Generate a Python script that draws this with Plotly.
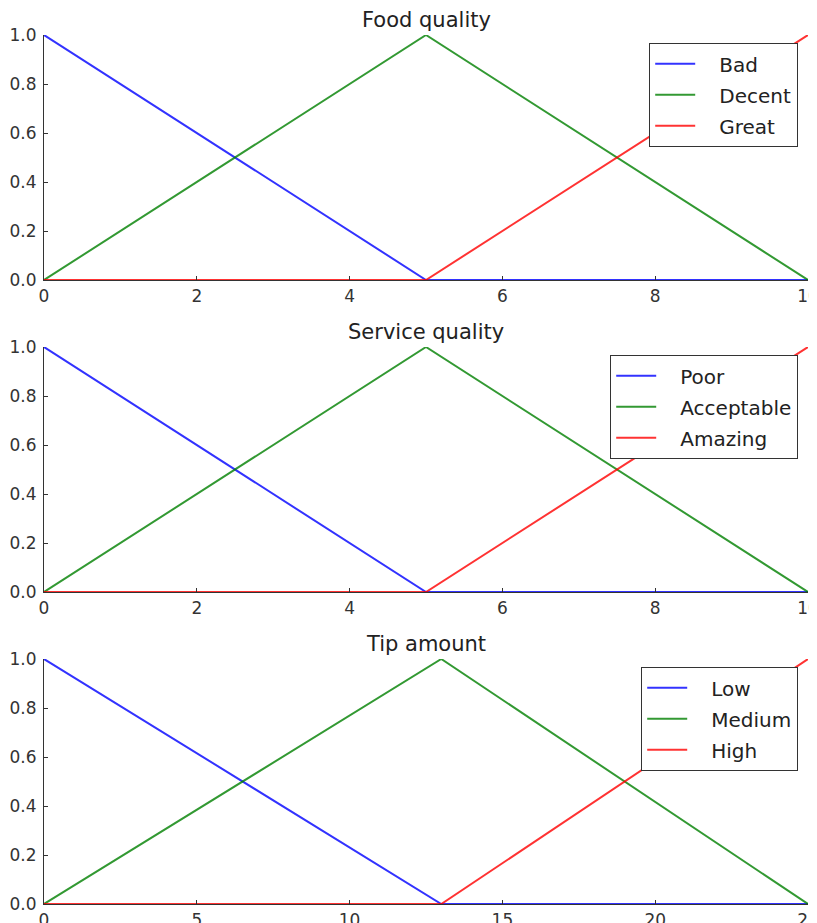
import plotly.graph_objects as go

# Universes
x_food = [0, 5, 10]
x_serv = [0, 5, 10]
x_tip = [0, 13, 25]

# Membership values at breakpoints
food_bad = [1.0, 0.0, 0.0]
food_decent = [0.0, 1.0, 0.0]
food_great = [0.0, 0.0, 1.0]

serv_poor = [1.0, 0.0, 0.0]
serv_acceptable = [0.0, 1.0, 0.0]
serv_amazing = [0.0, 0.0, 1.0]

tip_low = [1.0, 0.0, 0.0]
tip_medium = [0.0, 1.0, 0.0]
tip_high = [0.0, 0.0, 1.0]

titles = ["Food quality", "Service quality", "Tip amount"]
labels_food = ["Bad", "Decent", "Great"]
labels_serv = ["Poor", "Acceptable", "Amazing"]
labels_tip = ["Low", "Medium", "High"]

colors = ["#0000ff", "#008000", "#ff0000"]

# page body adds an 8px offset; work in figure coordinates
OFF = 8
W, H = 817 - OFF, 923 - OFF
ml, mr, mt, mb = 44 - OFF, 9, 35 - OFF, 19
ph = H - mt - mb
pw = W - ml - mr
plot_px = [(35, 280), (347, 592), (659, 904)]
bottom = 904 - OFF
domains = [[(bottom - (b - OFF)) / ph, (bottom - (t - OFF)) / ph] for t, b in plot_px]

fig = go.Figure()
panels = [
    (x_food, [food_bad, food_decent, food_great], labels_food, 10, [0, 2, 4, 6, 8, 10]),
    (x_serv, [serv_poor, serv_acceptable, serv_amazing], labels_serv, 10, [0, 2, 4, 6, 8, 10]),
    (x_tip, [tip_low, tip_medium, tip_high], labels_tip, 25, [0, 5, 10, 15, 20, 25]),
]
legend_tops = [43, 355, 667]
PAD = "\u00a0\u00a0\u00a0"
for i, (xs, ys_list, labs, xmax, xt) in enumerate(panels):
    sfx = "" if i == 0 else str(i + 1)
    leg = "legend" if i == 0 else f"legend{i+1}"
    for ys, lab, c in zip(ys_list, labs, colors):
        fig.add_trace(go.Scatter(
            x=xs, y=ys, mode="lines", name=PAD + lab,
            line=dict(color=c, width=2),
            xaxis="x" + sfx, yaxis="y" + sfx, legend=leg,
            legendgroup=f"{i}{lab}", opacity=0.8,
        ))
    axis_common = dict(
        showgrid=False, zeroline=False, showline=True, linecolor="#333333",
        linewidth=1.2, ticks="inside", ticklen=4, tickcolor="#333333",
        tickfont=dict(family="DejaVu Sans", size=17, color="#333333"),
        mirror=False, automargin=False, ticklabeloverflow="allow",
    )
    fig.update_layout(**{
        "xaxis" + sfx: dict(domain=[0, 1], range=[0, xmax], tickvals=xt,
                            ticklabelstandoff=0,
                            anchor="y" + sfx, **axis_common),
        "yaxis" + sfx: dict(domain=domains[i], range=[0, 1],
                            tickvals=[0, 0.2, 0.4, 0.6, 0.8, 1.0],
                            ticktext=["0.0", "0.2", "0.4", "0.6", "0.8", "1.0"],
                            ticklabelstandoff=3,
                            anchor="x" + sfx, **axis_common),
    })
    fig.add_annotation(
        text=titles[i], xref="paper", yref="paper", x=0.5, y=domains[i][1],
        yanchor="middle", xanchor="center", showarrow=False, yshift=15,
        font=dict(family="DejaVu Sans", size=21, color="#222222"),
    )
    fig.update_layout(**{leg: dict(
        x=(798 - OFF - ml) / pw, xanchor="right",
        y=(bottom - (legend_tops[i] - OFF)) / ph, yanchor="top",
        bgcolor="white", bordercolor="#333333", borderwidth=1.2,
        font=dict(family="DejaVu Sans", size=20, color="#222222"),
        tracegroupgap=2, traceorder="grouped", itemwidth=40,
    )})

fig.update_layout(
    width=W, height=H, margin=dict(l=ml, r=mr, t=mt, b=mb, autoexpand=False),
    plot_bgcolor="white", paper_bgcolor="white", showlegend=True,
)
fig.write_html("out.html")
